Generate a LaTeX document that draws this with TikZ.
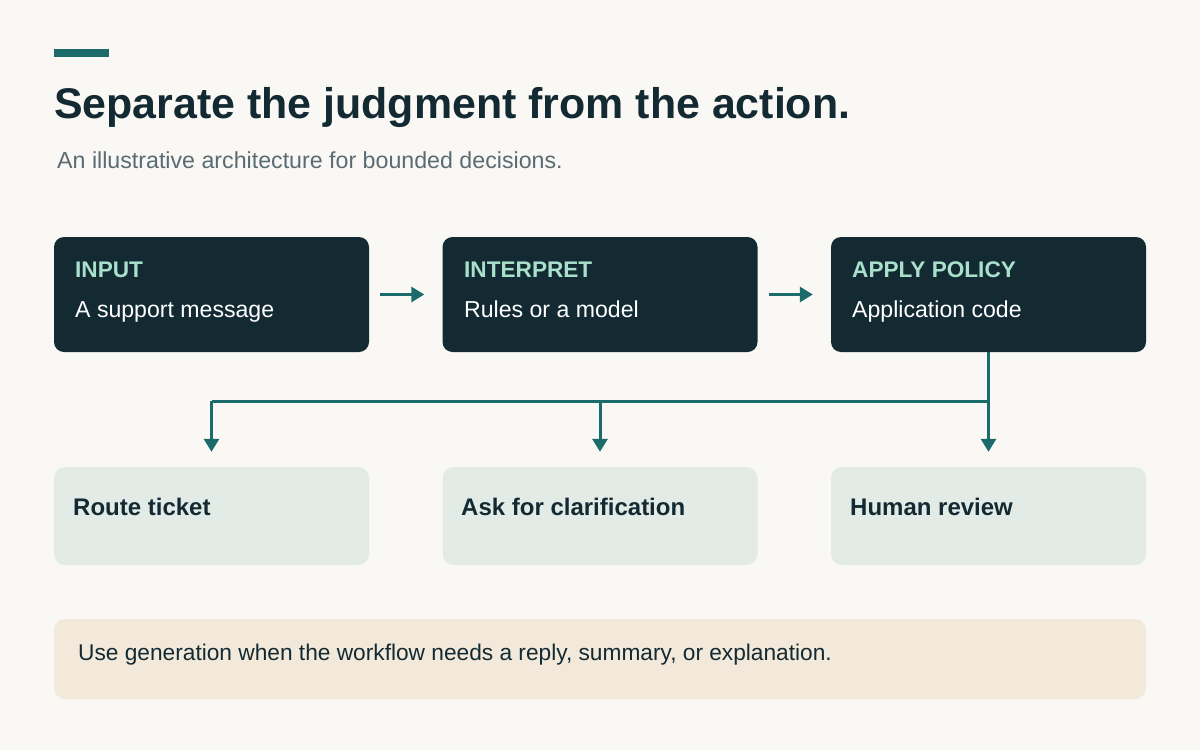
\documentclass[tikz,border=0pt]{standalone}
\usepackage{fontspec}
\setmainfont{Liberation Sans}
\usetikzlibrary{arrows.meta}
\definecolor{bg}{HTML}{F9F8F4}
\definecolor{navy}{HTML}{132A33}
\definecolor{teal}{HTML}{1B6B6A}
\definecolor{mint}{HTML}{A8E0CC}
\definecolor{pale}{HTML}{E3EBE7}
\definecolor{sand}{HTML}{F2E9DA}
\definecolor{subgray}{HTML}{5A6B72}
\tikzset{
  darkbox/.style={fill=navy, rounded corners=10pt, minimum width=315pt, minimum height=115pt, inner sep=0pt},
  lightbox/.style={fill=pale, rounded corners=11pt, minimum width=315pt, minimum height=98pt, inner sep=0pt},
  notebox/.style={fill=sand, rounded corners=11pt, minimum width=1092pt, minimum height=80pt, inner sep=0pt},
  txt/.style={anchor=base west, inner sep=0pt},
  kicker/.style={txt, text=mint, font=\fontsize{22.6}{26}\selectfont\bfseries},
  bodytxt/.style={txt, text=white, font=\fontsize{23.1}{27}\selectfont},
  outtxt/.style={txt, text=navy, font=\fontsize{24}{28}\selectfont\bfseries},
  conn/.style={draw=teal, line width=3pt},
  arr/.style={conn, -{Triangle[length=13pt,width=15pt]}},
}
\begin{document}
\begin{tikzpicture}[x=1pt,y=-1pt]
\fill[bg] (0,0) rectangle (1200,750);
\useasboundingbox (0,0) rectangle (1200,750);
% accent bar
\fill[teal] (54,49) rectangle (109,57);
\node[txt, text=navy, font=\fontsize{42.9}{50}\selectfont\bfseries] (title) at (54,118) {Separate the judgment from the action.};
\node[txt, text=subgray, font=\fontsize{23.2}{27}\selectfont] (sub) at (57,168) {An illustrative architecture for bounded decisions.};
% top boxes
\node[darkbox] (in) at (211.5,294.5) {};
\node[darkbox] (int) at (600,294.5) {};
\node[darkbox] (ap) at (988.5,294.5) {};
\node[kicker] (inK) at (75,277) {INPUT};
\node[bodytxt] (inB) at (75,317) {A support message};
\node[kicker] (intK) at (464,277) {INTERPRET};
\node[bodytxt] (intB) at (464,317) {Rules or a model};
\node[kicker] (apK) at (852,277) {APPLY POLICY};
\node[bodytxt] (apB) at (852,317) {Application code};
% bottom boxes
\node[lightbox] (rt) at (211.5,516) {};
\node[lightbox] (ask) at (600,516) {};
\node[lightbox] (hum) at (988.5,516) {};
\node[outtxt] (rtT) at (73,515) {Route ticket};
\node[outtxt] (askT) at (461,515) {Ask for clarification};
\node[outtxt] (humT) at (850,515) {Human review};
% note
\node[notebox] (note) at (600,659) {};
\node[txt, text=navy, font=\fontsize{22.7}{27}\selectfont] (noteT) at (78,660) {Use generation when the workflow needs a reply, summary, or explanation.};
% connectors
\draw[arr, shorten <=11pt, shorten >=18pt] (in) -- (int);
\draw[arr, shorten <=11pt, shorten >=18pt] (int) -- (ap);
\coordinate (bus) at (0,401);
\draw[conn] (ap.south |- bus) -- (rt.north |- bus);
\draw[arr, shorten >=15pt] (ap.south) -- (hum.north);
\draw[arr, shorten >=15pt] (ask.north |- bus) -- (ask.north);
\draw[arr, shorten >=15pt] (rt.north |- bus) -- (rt.north);
\end{tikzpicture}
\end{document}
